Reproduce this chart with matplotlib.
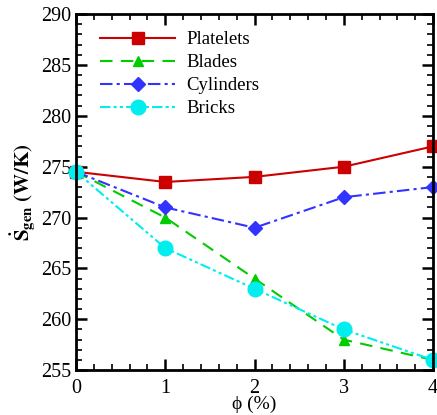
import numpy as np
import matplotlib
matplotlib.use("Agg")
import matplotlib.pyplot as plt
from matplotlib.ticker import MultipleLocator

plt.rcParams['font.family'] = 'Liberation Serif'
plt.rcParams['mathtext.fontset'] = 'stix'

phi = [0, 1, 2, 3, 4]
platelets = [274.5, 273.5, 274, 275, 277]
blades = [274.5, 270, 264, 258, 256]
cylinders = [274.5, 271, 269, 272, 273]
bricks = [274.5, 267, 263, 259, 256]

fig = plt.figure(figsize=(4.37, 4.15), dpi=100)
ax = fig.add_axes([0.174, 0.108, 0.817, 0.858])

ax.plot(phi, platelets, color='#cc0000', ls='-', marker='s', ms=8.5, lw=1.5,
        label='Platelets', clip_on=False)
ax.plot(phi, blades, color='#00cc00', ls=(0, (6, 4)), marker='^', ms=7.5, lw=1.5,
        label='Blades', clip_on=False)
ax.plot(phi, cylinders, color='#3333ff', ls=(0, (6, 2, 1.5, 2)), marker='D', ms=7, lw=1.5,
        label='Cylinders', clip_on=False)
ax.plot(phi, bricks, color='#00eeee', ls=(0, (5, 1.5, 1.5, 1.5, 1.5, 1.5)), marker='o', ms=10.5, lw=1.5,
        label='Bricks', clip_on=False)

ax.set_xlim(0, 4)
ax.set_ylim(255, 290)
ax.xaxis.set_major_locator(MultipleLocator(1))
ax.xaxis.set_minor_locator(MultipleLocator(0.2))
ax.yaxis.set_major_locator(MultipleLocator(5))
ax.yaxis.set_minor_locator(MultipleLocator(1))
ax.tick_params(which='both', direction='in', top=True, right=True, labelsize=14.5, width=1.2)
ax.tick_params(which='major', length=8, width=1.8)
ax.tick_params(which='minor', length=4)
ax.tick_params(axis='x', pad=6)
for s in ax.spines.values():
    s.set_linewidth(2)

ax.set_xlabel('\u03d5 (%)', fontsize=14, labelpad=-1)
ax.set_ylabel(r'$\mathbf{\dot{S}_{gen}\ (W/K)}$', fontsize=15, labelpad=2)

ax.legend(loc='upper left', frameon=False, fontsize=13.5, handlelength=4.0,
          bbox_to_anchor=(0.02, 1.0), labelspacing=0.32, handletextpad=0.6)

fig.savefig('out.png', dpi=100)
